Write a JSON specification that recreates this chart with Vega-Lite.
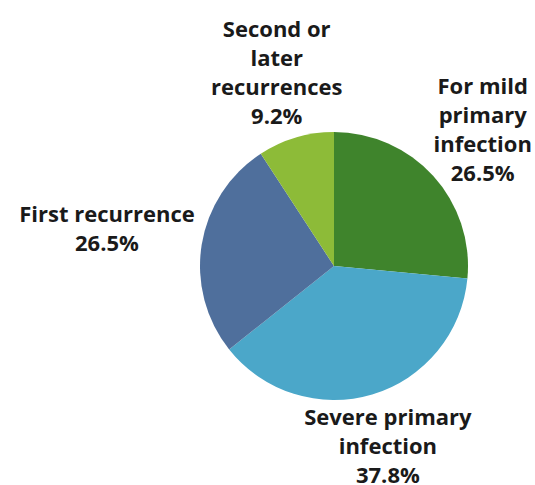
{
  "$schema": "https://vega.github.io/schema/vega-lite/v6.json",
  "autosize": {"type": "none"},
  "width": 402,
  "height": 438,
  "padding": {"left": 133, "right": 0, "top": 47, "bottom": 0},
  "background": "white",
  "data": {
    "values": [
      {"idx": 1, "category": "For mild primary infection", "label": "For mild\nprimary\ninfection\n26.5%", "share": 26.5},
      {"idx": 2, "category": "Severe primary infection", "label": "Severe primary\ninfection\n37.8%", "share": 37.8},
      {"idx": 3, "category": "First recurrence", "label": "First recurrence\n26.5%", "share": 26.5},
      {"idx": 4, "category": "Second or later recurrences", "label": "Second or\nlater\nrecurrences\n9.2%", "share": 9.2}
    ]
  },
  "encoding": {
    "theta": {"field": "share", "type": "quantitative", "stack": true},
    "order": {"field": "idx", "type": "ordinal"}
  },
  "layer": [
    {
      "mark": {"type": "arc", "outerRadius": 134},
      "encoding": {
        "color": {
          "field": "category",
          "type": "nominal",
          "scale": {
            "domain": ["For mild primary infection", "Severe primary infection", "First recurrence", "Second or later recurrences"],
            "range": ["#3f842c", "#4ba7c9", "#4f6f9c", "#8dbb38"]
          },
          "legend": null
        }
      }
    },
    {
      "mark": {
        "type": "text",
        "font": "Open Sans",
        "fontWeight": "bold",
        "fontSize": 22,
        "lineHeight": 29,
        "lineBreak": "\n",
        "align": "center",
        "baseline": "middle",
        "color": "#1a1a1a",
        "radius": {"expr": "datum.category == 'First recurrence' ? 230 : datum.category == 'Severe primary infection' ? 189 : 201"},
        "dy": {"expr": "-(length(split(datum.label, '\\n')) - 1) * 14.5"}
      },
      "encoding": {
        "text": {"field": "label", "type": "nominal"}
      }
    }
  ]
}
